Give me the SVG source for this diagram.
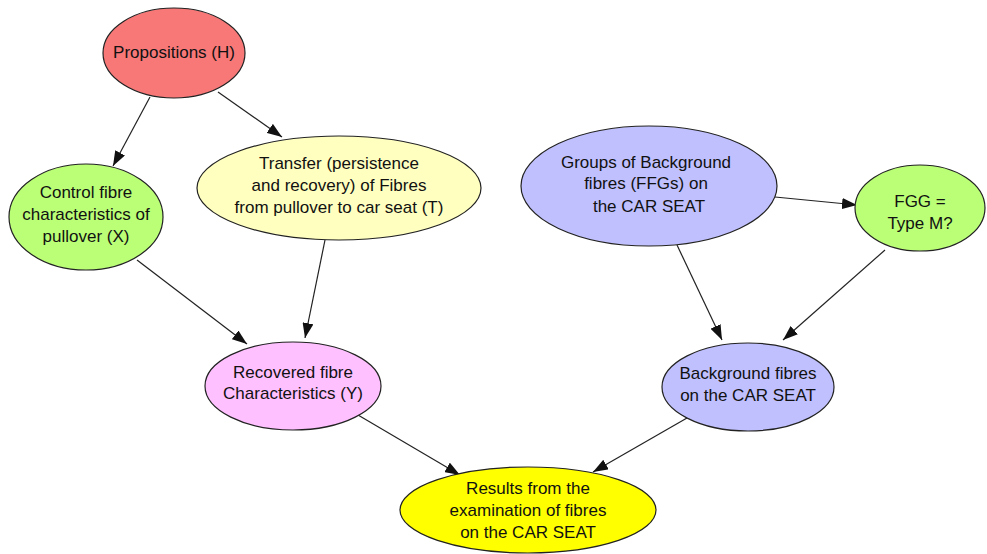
<svg xmlns="http://www.w3.org/2000/svg" width="987" height="554" viewBox="0 0 987 554">
  <style>
    .node ellipse { stroke: #222; stroke-width: 1.2; }
    .node text { font-family: "Liberation Sans", Arial, sans-serif; font-size: 17px; fill: #111; text-anchor: middle; }
    .edge { stroke: #222; stroke-width: 1.2; fill: none; marker-end: url(#arrow); }
  </style>
  <defs>
    <marker id="arrow" viewBox="0 0 15 11" refX="15" refY="5.5" markerWidth="15" markerHeight="11" markerUnits="userSpaceOnUse" orient="auto">
      <path d="M0,0 L15,5.5 L0,11 z" fill="#111"/>
    </marker>
  </defs>
  <rect width="987" height="554" fill="#fff"/>

  <g id="connectors">
    <line class="edge" x1="150" y1="97" x2="113" y2="166"/>
    <line class="edge" x1="218" y1="92" x2="282" y2="137"/>
    <line class="edge" x1="137" y1="260" x2="247" y2="344"/>
    <line class="edge" x1="325" y1="240" x2="305" y2="338"/>
    <line class="edge" x1="775" y1="197" x2="857" y2="205"/>
    <line class="edge" x1="677" y1="245" x2="722" y2="340"/>
    <line class="edge" x1="885" y1="250" x2="783" y2="340"/>
    <line class="edge" x1="358" y1="415" x2="460" y2="475"/>
    <line class="edge" x1="687" y1="418" x2="593" y2="472"/>
  </g>

  <g id="propositions" class="node">
    <ellipse cx="174" cy="53" rx="71" ry="45" fill="#f87878"/>
    <text x="174" y="58">Propositions (H)</text>
  </g>

  <g id="control" class="node">
    <ellipse cx="86" cy="217" rx="77" ry="53" fill="#bbff77"/>
    <text x="86" y="198">Control fibre</text>
    <text x="86" y="220">characteristics of</text>
    <text x="86" y="242">pullover (X)</text>
  </g>

  <g id="transfer" class="node">
    <ellipse cx="339" cy="188" rx="142" ry="52" fill="#ffffc0"/>
    <text x="339" y="169">Transfer (persistence</text>
    <text x="339" y="191">and recovery) of Fibres</text>
    <text x="339" y="213">from pullover to car seat (T)</text>
  </g>

  <g id="groups" class="node">
    <ellipse cx="649" cy="186" rx="128" ry="60" fill="#c0c0ff"/>
    <text x="646" y="168">Groups of Background</text>
    <text x="646" y="189">fibres (FFGs) on</text>
    <text x="649" y="212">the CAR SEAT</text>
  </g>

  <g id="fgg" class="node">
    <ellipse cx="920" cy="208" rx="65" ry="43" fill="#bbff77"/>
    <text x="920" y="207">FGG =</text>
    <text x="920" y="229">Type M?</text>
  </g>

  <g id="recovered" class="node">
    <ellipse cx="293" cy="386" rx="88" ry="44" fill="#ffc0ff"/>
    <text x="293" y="378">Recovered fibre</text>
    <text x="293" y="399">Characteristics (Y)</text>
  </g>

  <g id="background" class="node">
    <ellipse cx="748" cy="387" rx="86" ry="44" fill="#c0c0ff"/>
    <text x="748" y="379">Background fibres</text>
    <text x="748" y="401">on the CAR SEAT</text>
  </g>

  <g id="results" class="node">
    <ellipse cx="528" cy="510" rx="128" ry="43" fill="#ffff00"/>
    <text x="528" y="494">Results from the</text>
    <text x="528" y="516">examination of fibres</text>
    <text x="528" y="538">on the CAR SEAT</text>
  </g>
</svg>
